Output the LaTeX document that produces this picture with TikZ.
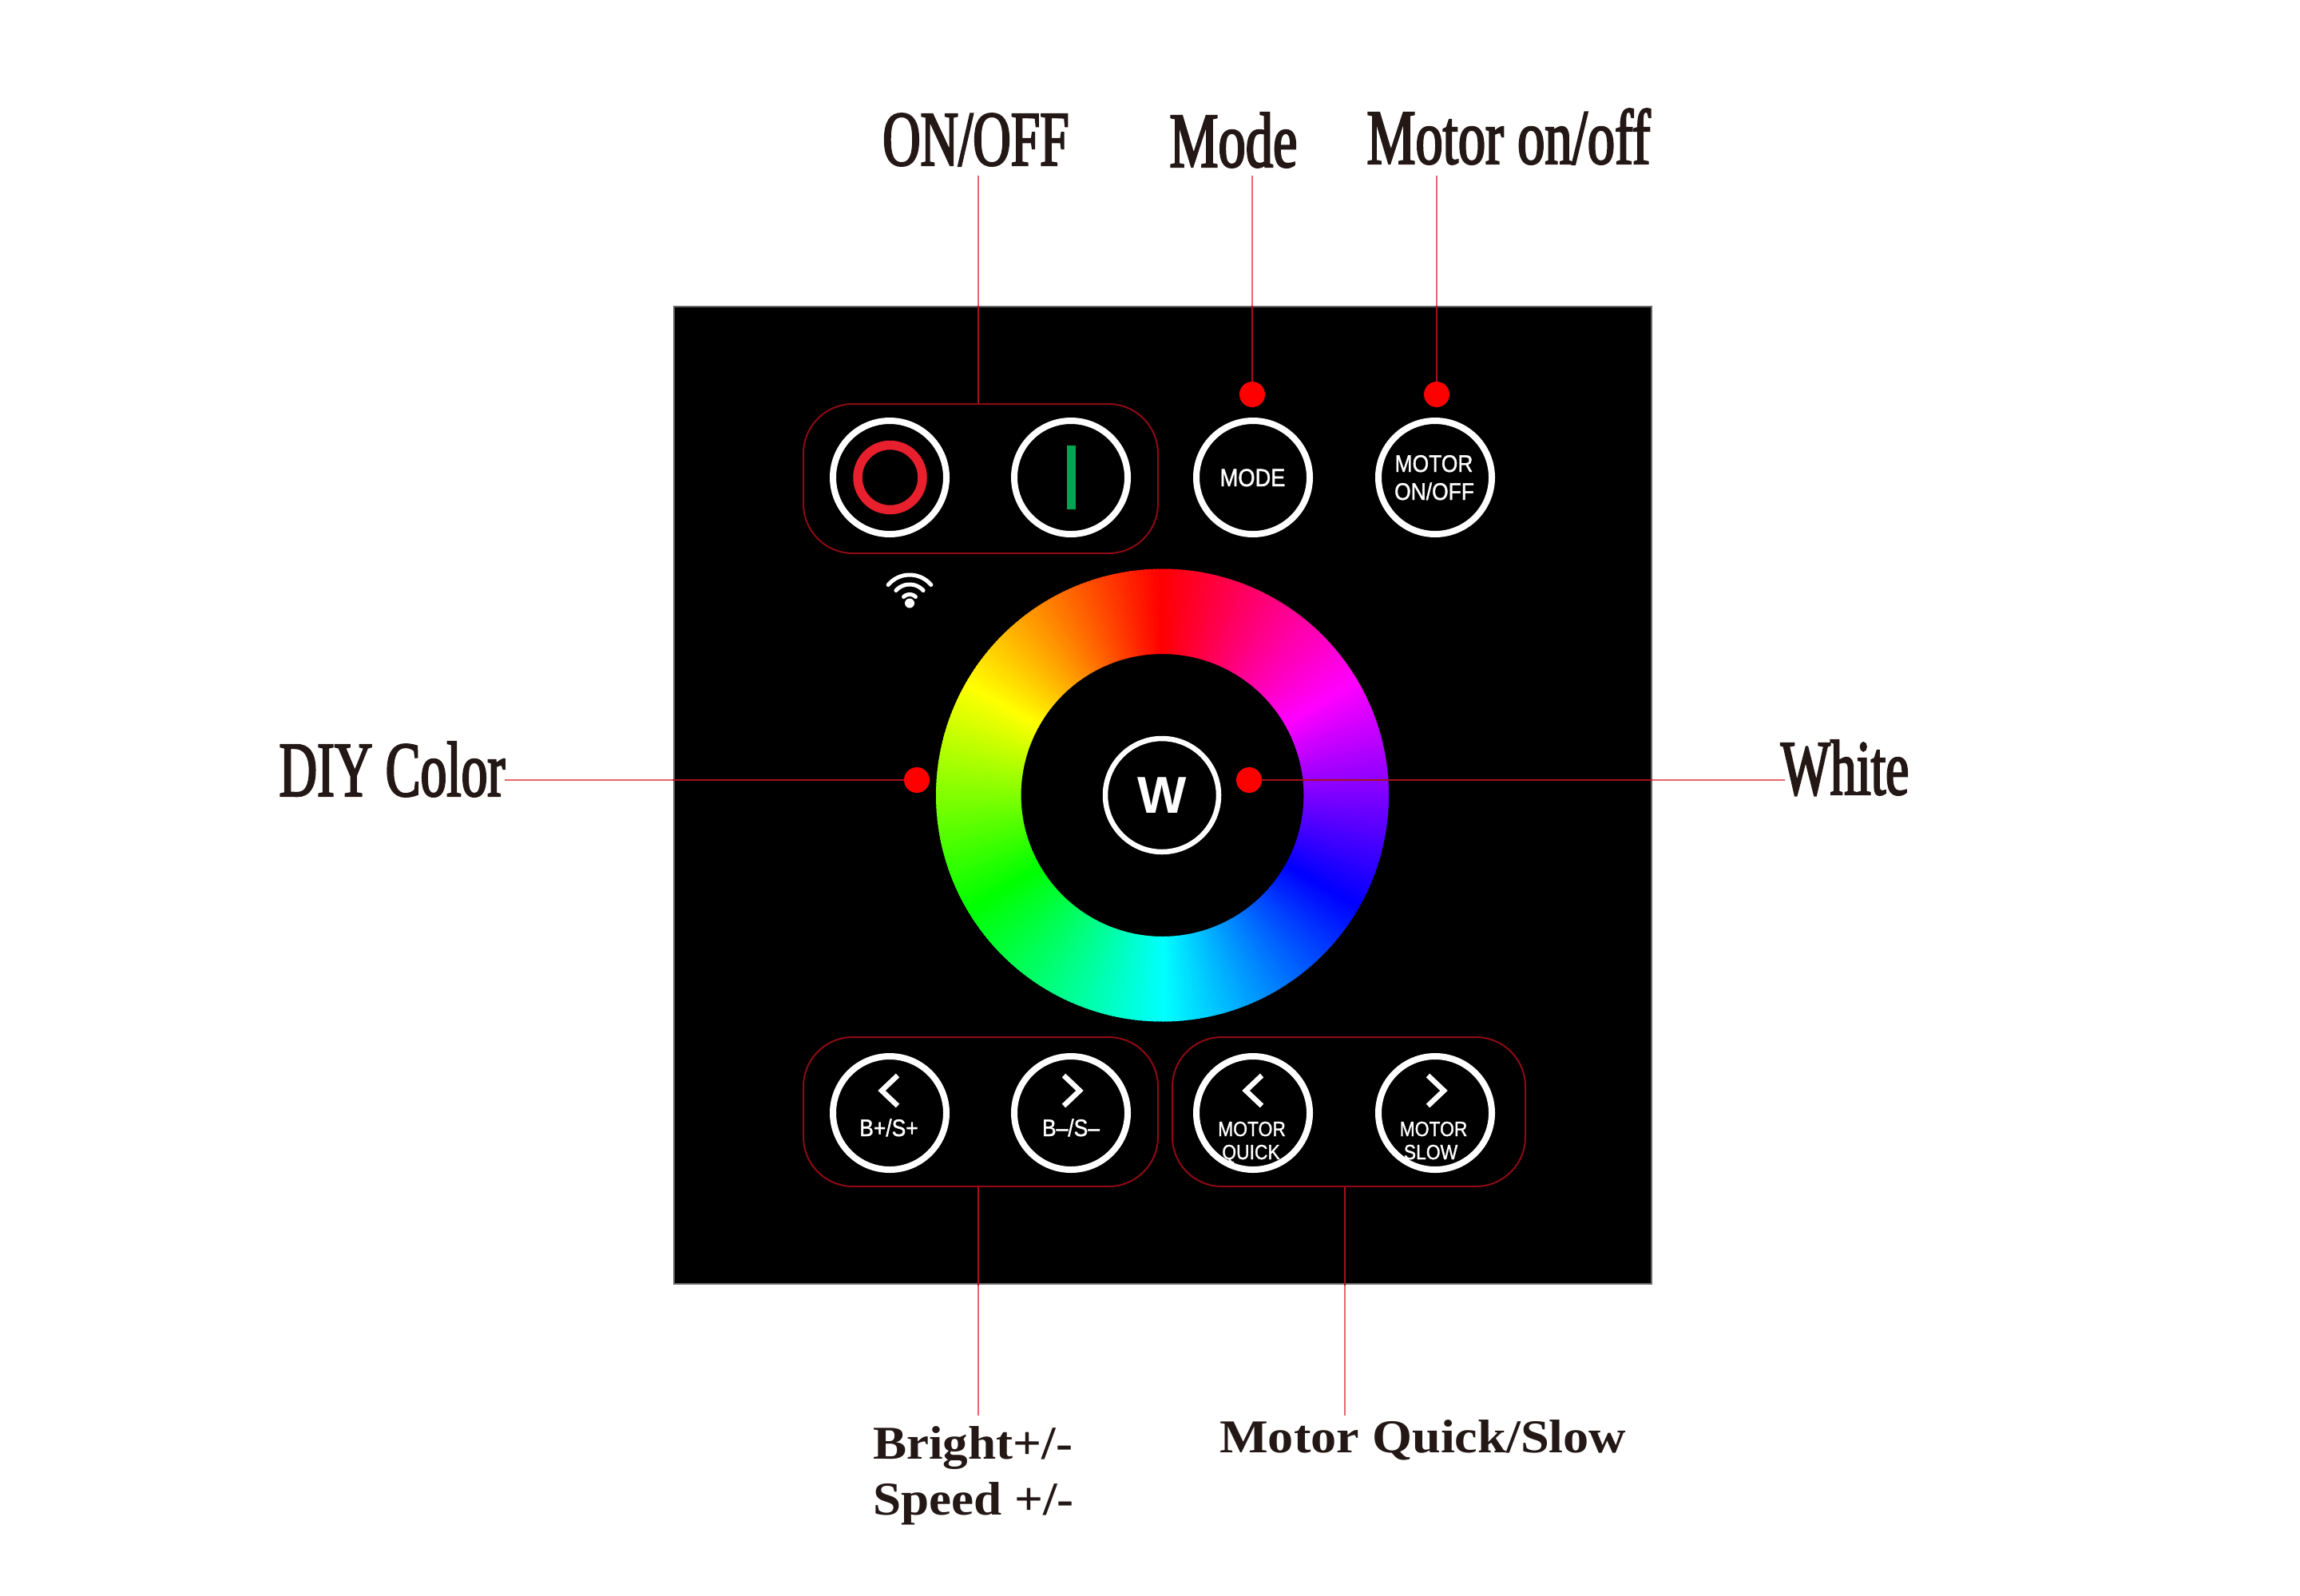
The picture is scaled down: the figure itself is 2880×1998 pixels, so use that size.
\documentclass[tikz,border=0pt]{standalone}
\usepackage{fontspec}
\setmainfont{Liberation Serif}
\newfontfamily\capfont[FakeStretch=0.67,FakeBold=2.2]{Liberation Serif}
\newfontfamily\capfontw[FakeStretch=0.70,FakeBold=2.2]{Liberation Serif}
\newfontfamily\botfont[FakeStretch=1.07]{Liberation Serif Bold}
\newfontfamily\botfontw[FakeStretch=1.09]{Liberation Serif Bold}
\newfontfamily\btnfont[FakeStretch=0.88,FakeBold=1.2]{Liberation Sans}
\newfontfamily\wfont{Liberation Sans Bold}
\definecolor{ink}{HTML}{231815}
\definecolor{leadlight}{HTML}{E9666E}
\definecolor{leaddark}{HTML}{A5101C}
\definecolor{groupline}{HTML}{8E0A14}
\definecolor{dotred}{HTML}{FF0000}
\definecolor{offred}{HTML}{E8202E}
\definecolor{ongreen}{HTML}{00A651}
\tikzset{
  capl/.style={anchor=base,inner sep=0pt,text=ink,font=\capfont\fontsize{98}{98}\selectfont},
  capw/.style={anchor=base,inner sep=0pt,text=ink,font=\capfontw\fontsize{98}{98}\selectfont},
  botl/.style={anchor=base west,inner sep=0pt,text=ink,font=\botfont\fontsize{59}{59}\selectfont},
  btn/.style={circle,draw=white,line width=8pt,minimum size=142pt,inner sep=0pt},
  grp/.style={rectangle,draw=groupline,line width=2pt,rounded corners=62pt,inner sep=0pt,minimum height=187pt},
  rdot/.style={circle,fill=dotred,minimum size=32pt,inner sep=0pt,outer sep=0pt},
  btxt/.style={anchor=base,inner sep=0pt,text=white,font=\btnfont\fontsize{31}{31}\selectfont},
  stxt/.style={anchor=base,inner sep=0pt,text=white,font=\btnfont\fontsize{26}{26}\selectfont},
  chev/.style={draw=white,line width=6.5pt,miter limit=10},
  leadl/.style={draw=leadlight,line width=2.4pt},
  leadd/.style={draw=leaddark,line width=2.4pt},
  wifi/.style={draw=white,line width=5pt,line cap=round},
}
\begin{document}
\begin{tikzpicture}[x=1pt,y=-1pt]
\useasboundingbox (0,0) rectangle (2880,1998);
\fill[white] (0,0) rectangle (2880,1998);
% panel
\node[rectangle,fill=black,draw=black!60,line width=2pt,minimum width=1224pt,minimum height=1224pt,inner sep=0pt] (panel) at (1455.5,996) {};
% colour wheel
\foreach \v in {0,...,359}{
  \pgfmathsetmacro{\hh}{mod(\v+270,360)}
  \pgfmathsetmacro{\aa}{-\v}
  \pgfmathsetmacro{\bb}{-\v-1.4}
  \definecolor{wc}{Hsb}{\hh,1,1}
  \fill[wc,shift={(1455.5,996)}] (\aa:177) -- (\aa:283.5) -- (\bb:283.5) -- (\bb:177) -- cycle;
}
% groups
\node[grp,minimum width=444pt] (gOnOff) at (1228,599.5) {};
\node[grp,minimum width=444pt] (gBright) at (1228,1392.5) {};
\node[grp,minimum width=442pt] (gMotor) at (1689,1392.5) {};
% buttons
\node[btn] (bOff) at (1114,598) {};
\node[btn] (bOn) at (1341,598) {};
\node[btn] (bMode) at (1569,598) {};
\node[btn] (bMotor) at (1797,598) {};
\node[btn] (bBp) at (1114,1394) {};
\node[btn] (bBm) at (1341,1394) {};
\node[btn] (bQuick) at (1569,1394) {};
\node[btn] (bSlow) at (1797,1394) {};
\node[circle,draw=white,line width=6.5pt,minimum size=142pt,inner sep=0pt] (bW) at (1455,996) {};
% icons
\node[circle,draw=offred,line width=11.5pt,minimum size=81pt,inner sep=0pt] (ringOff) at (1114.5,598) {};
\node[rectangle,fill=ongreen,minimum width=11pt,minimum height=80pt,inner sep=0pt] (barOn) at (1341.5,598) {};
\node[text=white,font=\wfont\fontsize{65}{65}\selectfont,anchor=base,inner sep=0pt] (tW) at (1455.5,1018) {W};
\node[btxt] (tMode) at (1568.5,609) {MODE};
\node[btxt,font=\btnfont\fontsize{30}{30}\selectfont] (tMotorA) at (1795.5,591) {MOTOR};
\node[btxt,font=\btnfont\fontsize{30}{30}\selectfont] (tMotorB) at (1796,626) {ON/OFF};
\node[btxt,font=\btnfont\fontsize{30}{30}\selectfont] (tBp) at (1113,1423) {B+/S+};
\node[btxt,font=\btnfont\fontsize{30}{30}\selectfont] (tBm) at (1341,1423) {B–/S–};
\node[stxt] (tQa) at (1567.5,1423) {MOTOR};
\node[stxt] (tQb) at (1566.5,1452) {QUICK};
\node[stxt] (tSa) at (1795,1423) {MOTOR};
\node[stxt] (tSb) at (1791.5,1452) {SLOW};
% chevrons
\draw[chev] (1124,1347) -- (1104,1366) -- (1124,1385);
\draw[chev] (1332,1347) -- (1352,1366) -- (1332,1385);
\draw[chev] (1580,1347) -- (1560,1366) -- (1580,1385);
\draw[chev] (1788,1347) -- (1808,1366) -- (1788,1385);
% wifi
\begin{scope}[shift={(1139,755)}]
\draw[wifi] plot[domain=-140:-40,samples=25,smooth] ({\x}:35);
\draw[wifi] plot[domain=-138:-42,samples=25,smooth] ({\x}:23);
\draw[wifi] plot[domain=-135:-45,samples=25,smooth] ({\x}:10.5);
\node[circle,fill=white,minimum size=12pt,inner sep=0pt] (wifiDot) at (0,0.5) {};
\end{scope}
% red dots
\node[rdot] (dMode) at (1568,494) {};
\node[rdot] (dMotor) at (1799,494) {};
\node[rdot] (dDiy) at (1148,977) {};
\node[rdot] (dWhite) at (1564,977) {};
% labels
\node[capl] (lOnOff) at (1222,207) {ON/OFF};
\node[capw] (lMode) at (1544.5,209) {Mode};
\node[capw] (lMotor) at (1889,205) {Motor on/off};
\node[capl] (lDiy) at (491,997) {DIY Color};
\node[capl] (lWhite) at (2310,995) {White};
\node[botl] (lBright) at (1093,1827) {Bright+/-};
\node[botl] (lSpeed) at (1093,1897) {Speed +/-};
\node[botl,font=\botfontw\fontsize{59}{59}\selectfont] (lQuick) at (1527,1819) {Motor Quick/Slow};
% connector free ends
\coordinate (eOn) at (1225,220);
\coordinate (eMo) at (1568,220);
\coordinate (eMt) at (1799,220);
\coordinate (eDi) at (632,977);
\coordinate (eWh) at (2235,977);
\coordinate (eBr) at (1225,1773);
\coordinate (eQu) at (1684,1773);
% connectors: light on paper, dark over the panel
\def\leads#1{%
  \draw[#1] (eOn) -- (eOn |- gOnOff.north);
  \draw[#1] (eMo) -- (dMode.north);
  \draw[#1] (eMt) -- (dMotor.north);
  \draw[#1] (eDi) -- (dDiy.west);
  \draw[#1] (dWhite.east) -- (eWh);
  \draw[#1] (eBr |- gBright.south) -- (eBr);
  \draw[#1] (eQu |- gMotor.south) -- (eQu);
}
\leads{leadl}
\begin{scope}
\clip (panel.south west) rectangle (panel.north east);
\leads{leadd}
\end{scope}
\end{tikzpicture}
\end{document}
